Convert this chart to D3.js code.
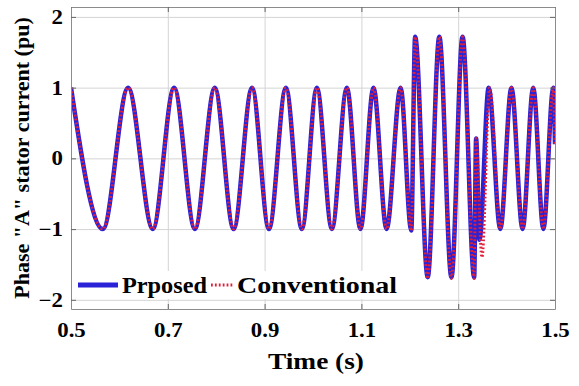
<!DOCTYPE html>
<html>
<head>
<meta charset="utf-8">
<script src="https://cdn.jsdelivr.net/npm/d3@7"></script>
<style>
  body { margin: 0; background: #fff; }
</style>
</head>
<body>
<div id="chart"></div>
<script>
// values (extremes of the waveform)
var tProposed = [0.500, 0.566, 0.618, 0.669, 0.713, 0.756, 0.797, 0.836, 0.874, 0.909,
                 0.944, 0.977, 1.008, 1.039, 1.070, 1.098, 1.125, 1.152, 1.181, 1.203,
                 1.211, 1.237, 1.261, 1.286, 1.309, 1.333, 1.337, 1.344, 1.363, 1.387,
                 1.410, 1.433, 1.455, 1.476, 1.4965, 1.500];
var iProposed = [1.00, -1.00, 1.00, -1.00, 1.00, -1.00, 1.00, -1.00, 1.00, -1.00,
                 1.00, -1.00, 1.00, -1.00, 1.00, -1.00, 1.00, -1.00, 1.00, -1.02,
                 1.72, -1.68, 1.72, -1.68, 1.72, -1.68, 0.28, -1.15, 1.00, -1.00,
                 1.00, -1.00, 1.00, -1.00, 1.00, 0.20];
var tConventional = [0.500, 0.566, 0.618, 0.669, 0.713, 0.756, 0.797, 0.836, 0.874, 0.909,
                     0.944, 0.977, 1.008, 1.039, 1.070, 1.098, 1.125, 1.152, 1.181, 1.203,
                     1.211, 1.237, 1.261, 1.286, 1.309, 1.333, 1.337, 1.349, 1.365, 1.387,
                     1.410, 1.433, 1.455, 1.476, 1.4965, 1.500];
var iConventional = [1.00, -1.00, 1.00, -1.00, 1.00, -1.00, 1.00, -1.00, 1.00, -1.00,
                     1.00, -1.00, 1.00, -1.00, 1.00, -1.00, 1.00, -1.00, 1.00, -1.02,
                     1.72, -1.70, 1.72, -1.70, 1.72, -1.70, 0.28, -1.40, 1.00, -1.00,
                     1.00, -1.00, 1.00, -1.00, 1.00, 0.20];
var xTicks = [0.5, 0.7, 0.9, 1.1, 1.3, 1.5];
var yTicks = [-2, -1, 0, 1, 2];
var seriesNames = ["Prposed", "Conventional"];

var FONT = "'Liberation Serif', 'Times New Roman', serif";
var STRETCH = 1.14;   // the figure's text is a little wider than normal

var margin = {top: 7, right: 24, bottom: 77, left: 71},
    width = 579 - margin.left - margin.right,
    height = 386 - margin.top - margin.bottom;

var x = d3.scaleLinear().domain([0.5, 1.5]).range([0, width]);
var y = d3.scaleLinear().domain([-2.13, 2.14]).range([height, 0]);

var svg = d3.select("#chart").append("svg")
    .attr("width", 579)
    .attr("height", 386)
    .append("g")
        .attr("transform", "translate(" + margin.left + "," + margin.top + ")");

function widen(sel) {
    sel.each(function() {
        var len = this.getComputedTextLength();
        if (len > 0) {
            d3.select(this)
                .attr("textLength", len * STRETCH)
                .attr("lengthAdjust", "spacingAndGlyphs");
        }
    });
}

// grid
svg.append("g")
    .attr("transform", "translate(0," + height + ")")
    .call(d3.axisBottom(x).tickValues(xTicks).tickSize(-height).tickFormat(""))
    .call(g => g.select(".domain").remove())
    .selectAll("line").attr("stroke", "#d4d4d4");
svg.append("g")
    .call(d3.axisLeft(y).tickValues(yTicks).tickSize(-width).tickFormat(""))
    .call(g => g.select(".domain").remove())
    .selectAll("line").attr("stroke", "#d4d4d4");

// curves
var line = d3.line()
    .x(function(d) { return x(d[0]); })
    .y(function(d) { return y(d[1]); })
    .curve(d3.curveMonotoneX);

var proposed = tProposed.map(function(t, k) { return [t, iProposed[k]]; });
var conventional = tConventional.map(function(t, k) { return [t, iConventional[k]]; });

svg.append("defs").append("clipPath").attr("id", "clip")
    .append("rect").attr("width", width).attr("height", height);

var plot = svg.append("g").attr("clip-path", "url(#clip)");
plot.append("path")
    .datum(proposed)
    .attr("d", line)
    .attr("fill", "none")
    .attr("stroke", "#2a22d6")
    .attr("stroke-width", 4.5);
plot.append("path")
    .datum(conventional)
    .attr("d", line)
    .attr("fill", "none")
    .attr("stroke", "#e0203a")
    .attr("stroke-width", 3)
    .attr("stroke-dasharray", "1.8,2.1");

// axes with inward ticks on all four sides
function styleAxis(g) {
    g.select(".domain").attr("stroke", "#8c8c8c");
    g.selectAll(".tick line").attr("stroke", "#666");
    g.attr("font-family", FONT).attr("font-size", 20).attr("font-weight", "bold");
    g.selectAll("text").attr("fill", "#000");
}
svg.append("g")
    .attr("transform", "translate(0," + height + ")")
    .call(d3.axisBottom(x).tickValues(xTicks).tickSizeInner(-5).tickSizeOuter(0)
        .tickPadding(14).tickFormat(d3.format(".1f")))
    .call(styleAxis)
    .selectAll("text").call(widen);
svg.append("g")
    .call(d3.axisTop(x).tickValues(xTicks).tickSizeInner(-5).tickSizeOuter(0).tickFormat(""))
    .call(styleAxis);
svg.append("g")
    .call(d3.axisLeft(y).tickValues(yTicks).tickSizeInner(-5).tickSizeOuter(0)
        .tickPadding(8).tickFormat(d3.format("d")))
    .call(styleAxis)
    .selectAll("text").call(widen);
svg.append("g")
    .attr("transform", "translate(" + width + ",0)")
    .call(d3.axisRight(y).tickValues(yTicks).tickSizeInner(-5).tickSizeOuter(0).tickFormat(""))
    .call(styleAxis);

// axis titles
svg.append("text")
    .attr("x", width / 2 + 3)
    .attr("y", 369 - margin.top)
    .attr("text-anchor", "middle")
    .attr("font-family", FONT).attr("font-weight", "bold")
    .attr("font-size", "24px")
    .text("Time (s)")
    .call(widen);
svg.append("text")
    .attr("transform", "translate(" + (29 - margin.left) + "," + (height / 2) + ") rotate(-90)")
    .attr("text-anchor", "middle")
    .attr("font-family", FONT).attr("font-weight", "bold")
    .attr("font-size", "22px")
    .text("Phase \"A\" stator current (pu)");

// legend
var legend = svg.append("g").attr("transform", "translate(0," + (285 - margin.top) + ")");
legend.append("rect")
    .attr("x", 2).attr("y", -14)
    .attr("width", 330).attr("height", 28)
    .attr("fill", "#fff");
legend.append("line")
    .attr("x1", 7).attr("x2", 47).attr("y1", 0).attr("y2", 0)
    .attr("stroke", "#2a22d6").attr("stroke-width", 5);
legend.append("text")
    .attr("x", 51).attr("y", 8)
    .attr("font-family", FONT).attr("font-weight", "bold")
    .attr("font-size", "24px")
    .text(seriesNames[0])
    .attr("textLength", 85).attr("lengthAdjust", "spacingAndGlyphs");
legend.append("line")
    .attr("x1", 140).attr("x2", 162).attr("y1", 0).attr("y2", 0)
    .attr("stroke", "#e0203a").attr("stroke-width", 3)
    .attr("stroke-dasharray", "1.8,2.1");
legend.append("text")
    .attr("x", 166).attr("y", 8)
    .attr("font-family", FONT).attr("font-weight", "bold")
    .attr("font-size", "24px")
    .text(seriesNames[1])
    .attr("textLength", 160).attr("lengthAdjust", "spacingAndGlyphs");
</script>
</body>
</html>
